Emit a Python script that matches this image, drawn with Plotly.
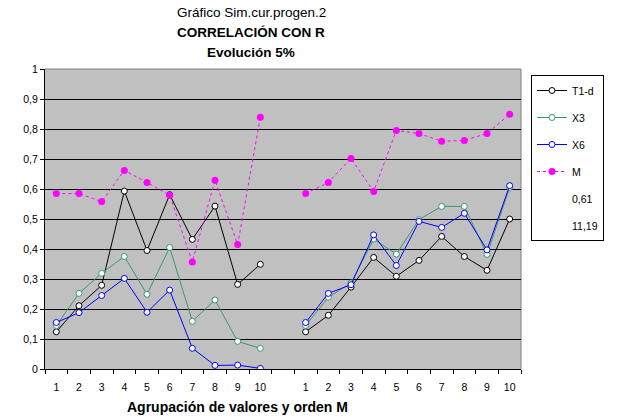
import plotly.graph_objects as go

# ---------------- data ----------------
order_labels = ["1", "2", "3", "4", "5", "6", "7", "8", "9", "10"]
y_tick_vals = [0, 0.1, 0.2, 0.3, 0.4, 0.5, 0.6, 0.7, 0.8, 0.9, 1.0]
y_tick_text = ["0", "0,1", "0,2", "0,3", "0,4", "0,5", "0,6", "0,7", "0,8", "0,9", "1"]

# left group (Agrupación)
t1d_left = [0.124, 0.211, 0.279, 0.593, 0.395, 0.581, 0.432, 0.543, 0.282, 0.349]
x3_left = [0.145, 0.252, 0.319, 0.375, 0.249, 0.405, 0.159, 0.230, 0.092, 0.069]
x6_left = [0.155, 0.188, 0.245, 0.302, 0.189, 0.263, 0.069, 0.012, 0.013, 0.002]
m_left = [0.585, 0.585, 0.558, 0.662, 0.622, 0.579, 0.357, 0.629, 0.415, 0.839]

# right group (orden M)
t1d_right = [0.124, 0.179, 0.273, 0.372, 0.309, 0.362, 0.442, 0.375, 0.329, 0.500]
x3_right = [0.145, 0.239, 0.287, 0.433, 0.383, 0.498, 0.542, 0.542, 0.382, 0.605]
x6_right = [0.155, 0.252, 0.281, 0.447, 0.345, 0.492, 0.472, 0.519, 0.397, 0.611]
m_right = [0.585, 0.622, 0.702, 0.592, 0.795, 0.785, 0.759, 0.762, 0.785, 0.849]

series_names = ["T1-d", "X3", "X6", "M"]
extra_legend = ["0,61", "11,19"]

# ---------------- layout constants ----------------
W, H = 620, 420
L, R, T, B = 45, 99, 69, 51
PW, PH = W - L - R, H - T - B

left_x = list(range(10))
right_x = list(range(11, 21))
xs = left_x + [10] + right_x


def join(a, b):
    return a + [None] + b


def px_x(p):
    return (p - L) / PW


def px_y(p):
    return (H - B - p) / PH


FONT = "Liberation Sans, Arial, sans-serif"

fig = go.Figure()

styles = {
    "T1-d": dict(color="#000000", data=join(t1d_left, t1d_right), hollow=True),
    "X3": dict(color="#339977", data=join(x3_left, x3_right), hollow=True),
    "X6": dict(color="#0000FF", data=join(x6_left, x6_right), hollow=True),
    "M": dict(color="#FF00FF", data=join(m_left, m_right), hollow=False),
}

for i, name in enumerate(series_names):
    s = styles[name]
    if s["hollow"]:
        marker = dict(symbol="circle", size=6, color="white",
                      line=dict(color=s["color"], width=1))
        line = dict(color=s["color"], width=1)
    else:
        marker = dict(symbol="circle", size=7, color=s["color"],
                      line=dict(color=s["color"], width=0))
        line = dict(color=s["color"], width=1, dash="3px,3px")
    fig.add_trace(go.Scatter(
        x=xs, y=s["data"], mode="lines+markers", name=name,
        line=line, marker=marker, connectgaps=False,
        legendgroup=name,
    ))

for name in extra_legend:
    fig.add_trace(go.Scatter(
        x=[None], y=[None], mode="lines", name=name,
        line=dict(color="rgba(0,0,0,0)", width=1),
        legendgroup=name,
    ))

# grey top/right border of the plot area
fig.add_shape(type="line", xref="paper", yref="paper", x0=0, x1=1, y0=1, y1=1,
              line=dict(color="#808080", width=1), layer="between")
fig.add_shape(type="line", xref="paper", yref="paper", x0=1, x1=1, y0=0, y1=1,
              line=dict(color="#808080", width=1), layer="between")

# titles
titles = [
    ("Gráfico Sim.cur.progen.2", 13, 251.5),
    ("<b>CORRELACIÓN CON R</b>", 32.5, 251),
    ("<b>Evolución 5%</b>", 52.5, 251),
]
for txt, ypx, xpx in titles:
    fig.add_annotation(text=txt, xref="paper", yref="paper",
                       x=px_x(xpx), y=px_y(ypx), xanchor="center", yanchor="middle",
                       showarrow=False, font=dict(family=FONT, size=13.5, color="black"))

fig.add_annotation(text="<b>Agrupación de valores y orden M</b>", xref="paper", yref="paper",
                   x=px_x(237.5), y=px_y(407), xanchor="center", yanchor="middle",
                   showarrow=False, font=dict(family=FONT, size=14, color="black"))

fig.update_layout(
    width=W, height=H,
    margin=dict(l=L, r=R, t=T, b=B, pad=0),
    paper_bgcolor="white", plot_bgcolor="#C0C0C0",
    font=dict(family=FONT, size=10.5, color="black"),
    showlegend=True,
    legend=dict(
        x=px_x(531), y=px_y(75), xanchor="left", yanchor="top",
        bgcolor="white", bordercolor="black", borderwidth=1,
        font=dict(family=FONT, size=10.5, color="black"),
        tracegroupgap=8, traceorder="grouped",
    ),
    xaxis=dict(
        range=[-0.5, 20.5], tickmode="array", tickvals=xs[:10] + right_x,
        ticktext=order_labels + order_labels, ticks="", showgrid=False,
        zeroline=False, showline=True, linecolor="black", linewidth=1,
        ticklabelstandoff=8, fixedrange=True,
        minor=dict(tickmode="array", tickvals=[i - 0.5 for i in range(22)],
                   ticks="outside", ticklen=4, tickcolor="black", tickwidth=1,
                   showgrid=False),
    ),
    yaxis=dict(
        range=[0, 1], tickmode="array", tickvals=y_tick_vals, ticktext=y_tick_text,
        ticks="outside", ticklen=4, tickcolor="black", tickwidth=1,
        showgrid=True, gridcolor="black", gridwidth=1,
        zeroline=False, showline=True, linecolor="black", linewidth=1,
        fixedrange=True,
    ),
)

fig.write_html("out.html")
